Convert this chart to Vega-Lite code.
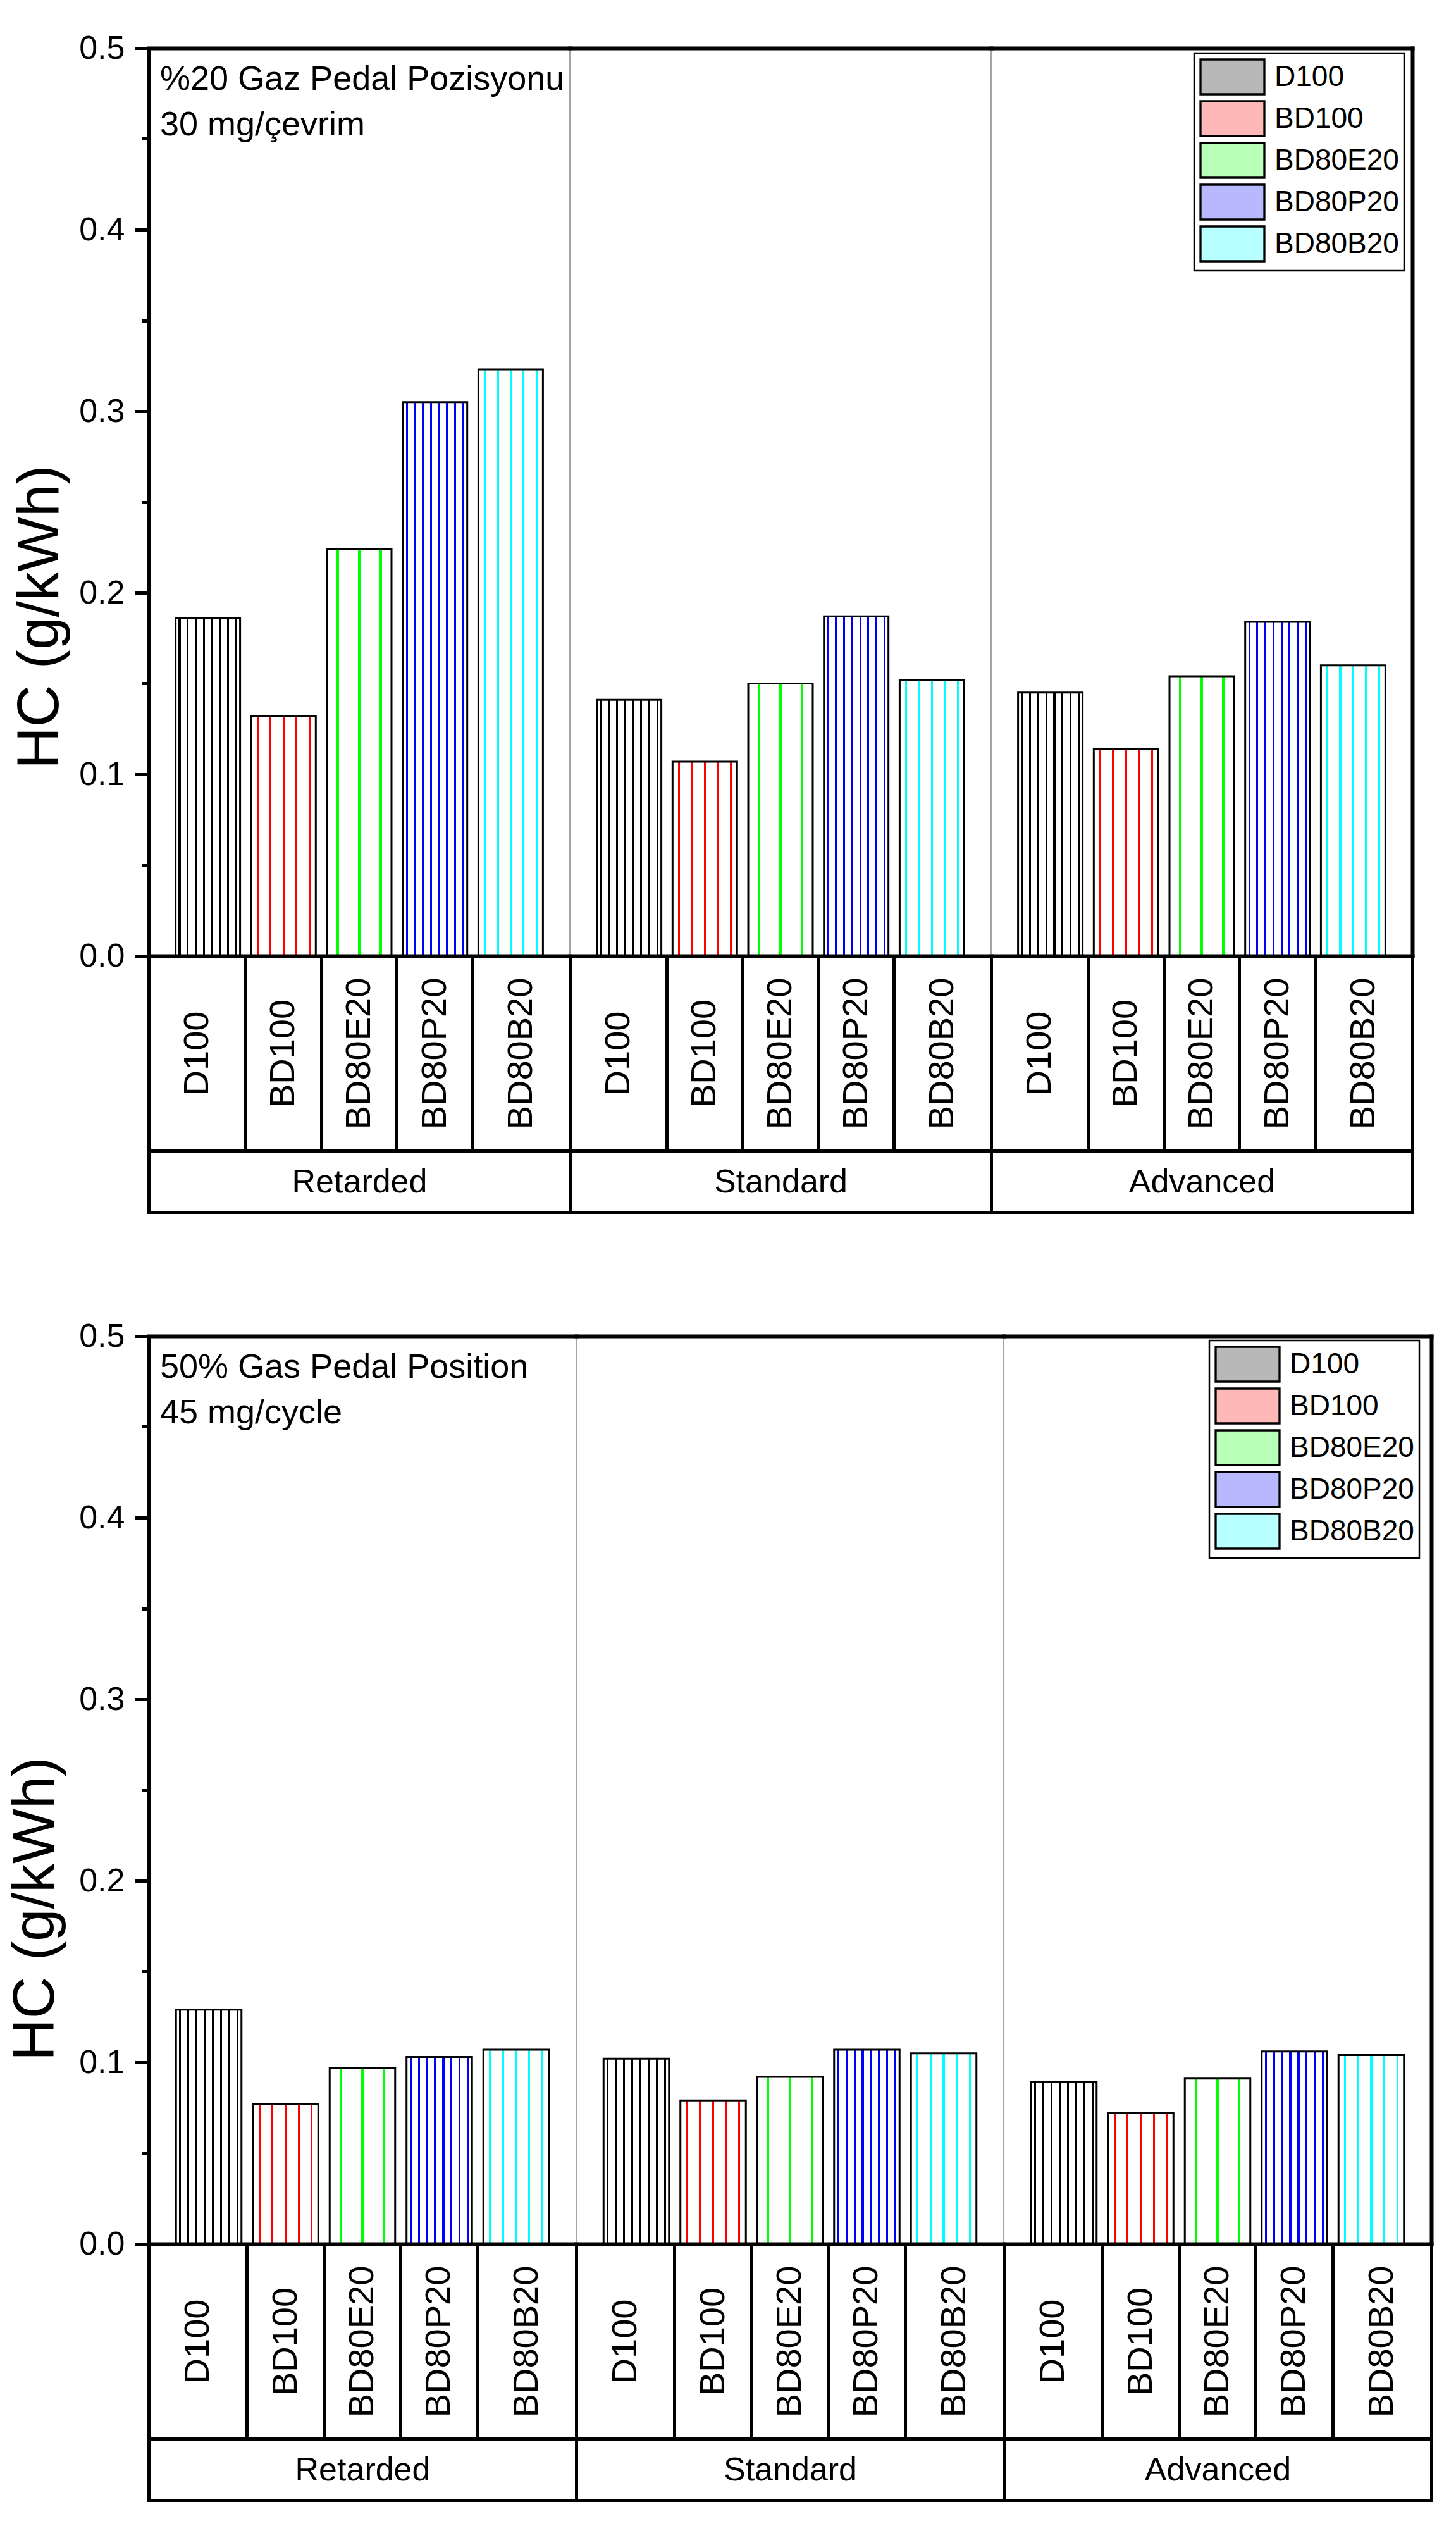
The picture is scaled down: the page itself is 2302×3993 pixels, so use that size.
{
  "$schema": "https://vega.github.io/schema/vega-lite/v6.json",
  "background": "white",
  "padding": {"left": 9, "top": 49, "right": 10, "bottom": 10},
  "data": {"values": [
    {"panel": "a", "timing": "Retarded", "fuel": "D100", "hc": 0.186},
    {"panel": "a", "timing": "Retarded", "fuel": "BD100", "hc": 0.132},
    {"panel": "a", "timing": "Retarded", "fuel": "BD80E20", "hc": 0.224},
    {"panel": "a", "timing": "Retarded", "fuel": "BD80P20", "hc": 0.305},
    {"panel": "a", "timing": "Retarded", "fuel": "BD80B20", "hc": 0.323},
    {"panel": "a", "timing": "Standard", "fuel": "D100", "hc": 0.141},
    {"panel": "a", "timing": "Standard", "fuel": "BD100", "hc": 0.107},
    {"panel": "a", "timing": "Standard", "fuel": "BD80E20", "hc": 0.150},
    {"panel": "a", "timing": "Standard", "fuel": "BD80P20", "hc": 0.187},
    {"panel": "a", "timing": "Standard", "fuel": "BD80B20", "hc": 0.152},
    {"panel": "a", "timing": "Advanced", "fuel": "D100", "hc": 0.145},
    {"panel": "a", "timing": "Advanced", "fuel": "BD100", "hc": 0.114},
    {"panel": "a", "timing": "Advanced", "fuel": "BD80E20", "hc": 0.154},
    {"panel": "a", "timing": "Advanced", "fuel": "BD80P20", "hc": 0.184},
    {"panel": "a", "timing": "Advanced", "fuel": "BD80B20", "hc": 0.160},
    {"panel": "b", "timing": "Retarded", "fuel": "D100", "hc": 0.129},
    {"panel": "b", "timing": "Retarded", "fuel": "BD100", "hc": 0.077},
    {"panel": "b", "timing": "Retarded", "fuel": "BD80E20", "hc": 0.097},
    {"panel": "b", "timing": "Retarded", "fuel": "BD80P20", "hc": 0.103},
    {"panel": "b", "timing": "Retarded", "fuel": "BD80B20", "hc": 0.107},
    {"panel": "b", "timing": "Standard", "fuel": "D100", "hc": 0.102},
    {"panel": "b", "timing": "Standard", "fuel": "BD100", "hc": 0.079},
    {"panel": "b", "timing": "Standard", "fuel": "BD80E20", "hc": 0.092},
    {"panel": "b", "timing": "Standard", "fuel": "BD80P20", "hc": 0.107},
    {"panel": "b", "timing": "Standard", "fuel": "BD80B20", "hc": 0.105},
    {"panel": "b", "timing": "Advanced", "fuel": "D100", "hc": 0.089},
    {"panel": "b", "timing": "Advanced", "fuel": "BD100", "hc": 0.072},
    {"panel": "b", "timing": "Advanced", "fuel": "BD80E20", "hc": 0.091},
    {"panel": "b", "timing": "Advanced", "fuel": "BD80P20", "hc": 0.106},
    {"panel": "b", "timing": "Advanced", "fuel": "BD80B20", "hc": 0.104}
  ]},
  "spacing": 165,
  "resolve": {"scale": {"x": "independent", "y": "independent", "fill": "independent"}, "legend": {"fill": "independent"}},
  "vconcat": [
    {
      "hconcat": [
        {
          "title": {"text": ["%20 Gaz Pedal Pozisyonu", "30 mg/çevrim"], "anchor": "start", "frame": "group", "orient": "top", "baseline": "alphabetic", "offset": -218, "dx": 18, "fontSize": 54, "fontWeight": "normal", "lineHeight": 72, "color": "black", "limit": 2000},
          "width": 666, "height": 1435,
          "transform": [{"filter": "datum.panel == 'a' && datum.timing == 'Retarded'"}],
          "resolve": {"scale": {"x": "independent"}, "axis": {"x": "independent", "y": "independent"}},
          "layer": [
            {"transform": [{"filter": "datum.fuel == 'D100'"}], "mark": {"type": "bar", "stroke": "black", "strokeWidth": 3, "width": {"band": 0.852}, "fill": {"gradient": "linear", "x1": 0, "y1": 0, "x2": 1, "y2": 0, "stops": [{"offset": 0, "color": "#ffffff"}, {"offset": 0.0475, "color": "#ffffff"}, {"offset": 0.0475, "color": "#000000"}, {"offset": 0.0775, "color": "#000000"}, {"offset": 0.0775, "color": "#ffffff"}, {"offset": 0.1725, "color": "#ffffff"}, {"offset": 0.1725, "color": "#000000"}, {"offset": 0.2025, "color": "#000000"}, {"offset": 0.2025, "color": "#ffffff"}, {"offset": 0.2975, "color": "#ffffff"}, {"offset": 0.2975, "color": "#000000"}, {"offset": 0.3275, "color": "#000000"}, {"offset": 0.3275, "color": "#ffffff"}, {"offset": 0.4225, "color": "#ffffff"}, {"offset": 0.4225, "color": "#000000"}, {"offset": 0.4525, "color": "#000000"}, {"offset": 0.4525, "color": "#ffffff"}, {"offset": 0.5475, "color": "#ffffff"}, {"offset": 0.5475, "color": "#000000"}, {"offset": 0.5775, "color": "#000000"}, {"offset": 0.5775, "color": "#ffffff"}, {"offset": 0.6725, "color": "#ffffff"}, {"offset": 0.6725, "color": "#000000"}, {"offset": 0.7025, "color": "#000000"}, {"offset": 0.7025, "color": "#ffffff"}, {"offset": 0.7975, "color": "#ffffff"}, {"offset": 0.7975, "color": "#000000"}, {"offset": 0.8275, "color": "#000000"}, {"offset": 0.8275, "color": "#ffffff"}, {"offset": 0.9225, "color": "#ffffff"}, {"offset": 0.9225, "color": "#000000"}, {"offset": 0.9525, "color": "#000000"}, {"offset": 0.9525, "color": "#ffffff"}, {"offset": 1, "color": "#ffffff"}]}},
              "encoding": {
                "x": {"field": "fuel", "type": "nominal", "scale": {"type": "band", "domain": ["D100", "BD100", "BD80E20", "BD80P20", "BD80B20"], "paddingInner": 0, "paddingOuter": 0.282},
                  "axis": {"orient": "bottom", "domain": false, "ticks": true, "bandPosition": 0, "tickExtra": false, "tickSize": 308, "tickWidth": 5, "tickOpacity": {"condition": {"test": "datum.value === 'D100'", "value": 0}, "value": 1}, "labelAngle": 270, "labelAlign": "center", "labelBaseline": "middle", "labelPadding": -154, "labelFontSize": 56, "labelLimit": 1000, "labelOverlap": false, "labelOffset": {"condition": [{"test": "datum.value === 'D100'", "value": -17}, {"test": "datum.value === 'BD80B20'", "value": 17}], "value": 0}, "title": null, "zindex": 1}},
                "y": {"field": "hc", "type": "quantitative", "scale": {"domain": [0, 0.5], "nice": false},
                  "axis": {"orient": "left", "values": [0, 0.05, 0.1, 0.15, 0.2, 0.25, 0.3, 0.35, 0.4, 0.45, 0.5], "labelExpr": "round(datum.value*100) % 10 == 0 ? format(datum.value, '.1f') : ''", "tickSize": {"condition": {"test": "round(datum.value*100) % 10 != 0", "value": 11}, "value": 22}, "tickWidth": 5, "domainWidth": 5, "labelFontSize": 52, "labelPadding": 16, "title": "HC (g/kWh)", "titleFontSize": 92, "titleFontWeight": "normal", "titlePadding": 14, "titleY": 899, "zindex": 2}}}},
            {"transform": [{"filter": "datum.fuel == 'BD100'"}], "mark": {"type": "bar", "stroke": "black", "strokeWidth": 3, "width": {"band": 0.852}, "fill": {"gradient": "linear", "x1": 0, "y1": 0, "x2": 1, "y2": 0, "stops": [{"offset": 0, "color": "#ffffff"}, {"offset": 0.085, "color": "#ffffff"}, {"offset": 0.085, "color": "#ff0000"}, {"offset": 0.115, "color": "#ff0000"}, {"offset": 0.115, "color": "#ffffff"}, {"offset": 0.285, "color": "#ffffff"}, {"offset": 0.285, "color": "#ff0000"}, {"offset": 0.315, "color": "#ff0000"}, {"offset": 0.315, "color": "#ffffff"}, {"offset": 0.485, "color": "#ffffff"}, {"offset": 0.485, "color": "#ff0000"}, {"offset": 0.515, "color": "#ff0000"}, {"offset": 0.515, "color": "#ffffff"}, {"offset": 0.685, "color": "#ffffff"}, {"offset": 0.685, "color": "#ff0000"}, {"offset": 0.715, "color": "#ff0000"}, {"offset": 0.715, "color": "#ffffff"}, {"offset": 0.885, "color": "#ffffff"}, {"offset": 0.885, "color": "#ff0000"}, {"offset": 0.915, "color": "#ff0000"}, {"offset": 0.915, "color": "#ffffff"}, {"offset": 1, "color": "#ffffff"}]}},
              "encoding": {"x": {"field": "fuel", "type": "nominal", "scale": {"type": "band", "domain": ["D100", "BD100", "BD80E20", "BD80P20", "BD80B20"], "paddingInner": 0, "paddingOuter": 0.282}, "axis": null}, "y": {"field": "hc", "type": "quantitative", "axis": null}}},
            {"transform": [{"filter": "datum.fuel == 'BD80E20'"}], "mark": {"type": "bar", "stroke": "black", "strokeWidth": 3, "width": {"band": 0.852}, "fill": {"gradient": "linear", "x1": 0, "y1": 0, "x2": 1, "y2": 0, "stops": [{"offset": 0, "color": "#ffffff"}, {"offset": 0.1517, "color": "#ffffff"}, {"offset": 0.1517, "color": "#00ff00"}, {"offset": 0.1817, "color": "#00ff00"}, {"offset": 0.1817, "color": "#ffffff"}, {"offset": 0.485, "color": "#ffffff"}, {"offset": 0.485, "color": "#00ff00"}, {"offset": 0.515, "color": "#00ff00"}, {"offset": 0.515, "color": "#ffffff"}, {"offset": 0.8183, "color": "#ffffff"}, {"offset": 0.8183, "color": "#00ff00"}, {"offset": 0.8483, "color": "#00ff00"}, {"offset": 0.8483, "color": "#ffffff"}, {"offset": 1, "color": "#ffffff"}]}},
              "encoding": {"x": {"field": "fuel", "type": "nominal", "scale": {"type": "band", "domain": ["D100", "BD100", "BD80E20", "BD80P20", "BD80B20"], "paddingInner": 0, "paddingOuter": 0.282}, "axis": null}, "y": {"field": "hc", "type": "quantitative", "axis": null}}},
            {"transform": [{"filter": "datum.fuel == 'BD80P20'"}], "mark": {"type": "bar", "stroke": "black", "strokeWidth": 3, "width": {"band": 0.852}, "fill": {"gradient": "linear", "x1": 0, "y1": 0, "x2": 1, "y2": 0, "stops": [{"offset": 0, "color": "#ffffff"}, {"offset": 0.0475, "color": "#ffffff"}, {"offset": 0.0475, "color": "#0000ff"}, {"offset": 0.0775, "color": "#0000ff"}, {"offset": 0.0775, "color": "#ffffff"}, {"offset": 0.1725, "color": "#ffffff"}, {"offset": 0.1725, "color": "#0000ff"}, {"offset": 0.2025, "color": "#0000ff"}, {"offset": 0.2025, "color": "#ffffff"}, {"offset": 0.2975, "color": "#ffffff"}, {"offset": 0.2975, "color": "#0000ff"}, {"offset": 0.3275, "color": "#0000ff"}, {"offset": 0.3275, "color": "#ffffff"}, {"offset": 0.4225, "color": "#ffffff"}, {"offset": 0.4225, "color": "#0000ff"}, {"offset": 0.4525, "color": "#0000ff"}, {"offset": 0.4525, "color": "#ffffff"}, {"offset": 0.5475, "color": "#ffffff"}, {"offset": 0.5475, "color": "#0000ff"}, {"offset": 0.5775, "color": "#0000ff"}, {"offset": 0.5775, "color": "#ffffff"}, {"offset": 0.6725, "color": "#ffffff"}, {"offset": 0.6725, "color": "#0000ff"}, {"offset": 0.7025, "color": "#0000ff"}, {"offset": 0.7025, "color": "#ffffff"}, {"offset": 0.7975, "color": "#ffffff"}, {"offset": 0.7975, "color": "#0000ff"}, {"offset": 0.8275, "color": "#0000ff"}, {"offset": 0.8275, "color": "#ffffff"}, {"offset": 0.9225, "color": "#ffffff"}, {"offset": 0.9225, "color": "#0000ff"}, {"offset": 0.9525, "color": "#0000ff"}, {"offset": 0.9525, "color": "#ffffff"}, {"offset": 1, "color": "#ffffff"}]}},
              "encoding": {"x": {"field": "fuel", "type": "nominal", "scale": {"type": "band", "domain": ["D100", "BD100", "BD80E20", "BD80P20", "BD80B20"], "paddingInner": 0, "paddingOuter": 0.282}, "axis": null}, "y": {"field": "hc", "type": "quantitative", "axis": null}}},
            {"transform": [{"filter": "datum.fuel == 'BD80B20'"}], "mark": {"type": "bar", "stroke": "black", "strokeWidth": 3, "width": {"band": 0.852}, "fill": {"gradient": "linear", "x1": 0, "y1": 0, "x2": 1, "y2": 0, "stops": [{"offset": 0, "color": "#ffffff"}, {"offset": 0.085, "color": "#ffffff"}, {"offset": 0.085, "color": "#00ffff"}, {"offset": 0.115, "color": "#00ffff"}, {"offset": 0.115, "color": "#ffffff"}, {"offset": 0.285, "color": "#ffffff"}, {"offset": 0.285, "color": "#00ffff"}, {"offset": 0.315, "color": "#00ffff"}, {"offset": 0.315, "color": "#ffffff"}, {"offset": 0.485, "color": "#ffffff"}, {"offset": 0.485, "color": "#00ffff"}, {"offset": 0.515, "color": "#00ffff"}, {"offset": 0.515, "color": "#ffffff"}, {"offset": 0.685, "color": "#ffffff"}, {"offset": 0.685, "color": "#00ffff"}, {"offset": 0.715, "color": "#00ffff"}, {"offset": 0.715, "color": "#ffffff"}, {"offset": 0.885, "color": "#ffffff"}, {"offset": 0.885, "color": "#00ffff"}, {"offset": 0.915, "color": "#00ffff"}, {"offset": 0.915, "color": "#ffffff"}, {"offset": 1, "color": "#ffffff"}]}},
              "encoding": {"x": {"field": "fuel", "type": "nominal", "scale": {"type": "band", "domain": ["D100", "BD100", "BD80E20", "BD80P20", "BD80B20"], "paddingInner": 0, "paddingOuter": 0.282}, "axis": null}, "y": {"field": "hc", "type": "quantitative", "axis": null}}},
            {"mark": {"type": "point", "opacity": 0}, "encoding": {"y": {"field": "hc", "type": "quantitative", "axis": null}, "x": {"field": "timing", "type": "nominal", "scale": {"type": "band", "paddingInner": 0, "paddingOuter": 0}, "axis": {"orient": "bottom", "domain": true, "domainWidth": 6, "domainCap": "square", "ticks": true, "tickBand": "extent", "tickSize": 405, "tickWidth": 5, "labelAngle": 0, "labelAlign": "center", "labelBaseline": "middle", "labelPadding": -48, "labelFontSize": 52, "labelLimit": 1000, "title": null, "zindex": 2}}}},
            {"mark": {"type": "point", "opacity": 0}, "encoding": {"y": {"field": "hc", "type": "quantitative", "axis": null}, "x": {"field": "timing", "type": "nominal", "scale": {"type": "band", "paddingInner": 0, "paddingOuter": 0}, "axis": {"orient": "bottom", "offset": 308, "domainWidth": 5, "domainCap": "square", "ticks": false, "labels": false, "title": null, "zindex": 2}}}},
            {"mark": {"type": "point", "opacity": 0}, "encoding": {"y": {"field": "hc", "type": "quantitative", "axis": null}, "x": {"field": "timing", "type": "nominal", "scale": {"type": "band", "paddingInner": 0, "paddingOuter": 0}, "axis": {"orient": "bottom", "offset": 405, "domainWidth": 5, "domainCap": "square", "ticks": false, "labels": false, "title": null, "zindex": 2}}}},
            {"mark": {"type": "point", "opacity": 0}, "encoding": {"y": {"field": "hc", "type": "quantitative", "axis": null}, "x": {"field": "timing", "type": "nominal", "scale": {"type": "band", "paddingInner": 0, "paddingOuter": 0}, "axis": {"orient": "top", "domainWidth": 6, "domainCap": "square", "ticks": false, "labels": false, "title": null, "zindex": 2}}}}
          ]
        },
        {
          "width": 666, "height": 1435,
          "transform": [{"filter": "datum.panel == 'a' && datum.timing == 'Standard'"}],
          "resolve": {"scale": {"x": "independent"}, "axis": {"x": "independent", "y": "independent"}},
          "layer": [
            {"transform": [{"filter": "datum.fuel == 'D100'"}], "mark": {"type": "bar", "stroke": "black", "strokeWidth": 3, "width": {"band": 0.852}, "fill": {"gradient": "linear", "x1": 0, "y1": 0, "x2": 1, "y2": 0, "stops": [{"offset": 0, "color": "#ffffff"}, {"offset": 0.0475, "color": "#ffffff"}, {"offset": 0.0475, "color": "#000000"}, {"offset": 0.0775, "color": "#000000"}, {"offset": 0.0775, "color": "#ffffff"}, {"offset": 0.1725, "color": "#ffffff"}, {"offset": 0.1725, "color": "#000000"}, {"offset": 0.2025, "color": "#000000"}, {"offset": 0.2025, "color": "#ffffff"}, {"offset": 0.2975, "color": "#ffffff"}, {"offset": 0.2975, "color": "#000000"}, {"offset": 0.3275, "color": "#000000"}, {"offset": 0.3275, "color": "#ffffff"}, {"offset": 0.4225, "color": "#ffffff"}, {"offset": 0.4225, "color": "#000000"}, {"offset": 0.4525, "color": "#000000"}, {"offset": 0.4525, "color": "#ffffff"}, {"offset": 0.5475, "color": "#ffffff"}, {"offset": 0.5475, "color": "#000000"}, {"offset": 0.5775, "color": "#000000"}, {"offset": 0.5775, "color": "#ffffff"}, {"offset": 0.6725, "color": "#ffffff"}, {"offset": 0.6725, "color": "#000000"}, {"offset": 0.7025, "color": "#000000"}, {"offset": 0.7025, "color": "#ffffff"}, {"offset": 0.7975, "color": "#ffffff"}, {"offset": 0.7975, "color": "#000000"}, {"offset": 0.8275, "color": "#000000"}, {"offset": 0.8275, "color": "#ffffff"}, {"offset": 0.9225, "color": "#ffffff"}, {"offset": 0.9225, "color": "#000000"}, {"offset": 0.9525, "color": "#000000"}, {"offset": 0.9525, "color": "#ffffff"}, {"offset": 1, "color": "#ffffff"}]}},
              "encoding": {
                "x": {"field": "fuel", "type": "nominal", "scale": {"type": "band", "domain": ["D100", "BD100", "BD80E20", "BD80P20", "BD80B20"], "paddingInner": 0, "paddingOuter": 0.282},
                  "axis": {"orient": "bottom", "domain": false, "ticks": true, "bandPosition": 0, "tickExtra": false, "tickSize": 308, "tickWidth": 5, "tickOpacity": {"condition": {"test": "datum.value === 'D100'", "value": 0}, "value": 1}, "labelAngle": 270, "labelAlign": "center", "labelBaseline": "middle", "labelPadding": -154, "labelFontSize": 56, "labelLimit": 1000, "labelOverlap": false, "labelOffset": {"condition": [{"test": "datum.value === 'D100'", "value": -17}, {"test": "datum.value === 'BD80B20'", "value": 17}], "value": 0}, "title": null, "zindex": 1}},
                "y": {"field": "hc", "type": "quantitative", "scale": {"domain": [0, 0.5], "nice": false}, "axis": null}}},
            {"transform": [{"filter": "datum.fuel == 'BD100'"}], "mark": {"type": "bar", "stroke": "black", "strokeWidth": 3, "width": {"band": 0.852}, "fill": {"gradient": "linear", "x1": 0, "y1": 0, "x2": 1, "y2": 0, "stops": [{"offset": 0, "color": "#ffffff"}, {"offset": 0.085, "color": "#ffffff"}, {"offset": 0.085, "color": "#ff0000"}, {"offset": 0.115, "color": "#ff0000"}, {"offset": 0.115, "color": "#ffffff"}, {"offset": 0.285, "color": "#ffffff"}, {"offset": 0.285, "color": "#ff0000"}, {"offset": 0.315, "color": "#ff0000"}, {"offset": 0.315, "color": "#ffffff"}, {"offset": 0.485, "color": "#ffffff"}, {"offset": 0.485, "color": "#ff0000"}, {"offset": 0.515, "color": "#ff0000"}, {"offset": 0.515, "color": "#ffffff"}, {"offset": 0.685, "color": "#ffffff"}, {"offset": 0.685, "color": "#ff0000"}, {"offset": 0.715, "color": "#ff0000"}, {"offset": 0.715, "color": "#ffffff"}, {"offset": 0.885, "color": "#ffffff"}, {"offset": 0.885, "color": "#ff0000"}, {"offset": 0.915, "color": "#ff0000"}, {"offset": 0.915, "color": "#ffffff"}, {"offset": 1, "color": "#ffffff"}]}},
              "encoding": {"x": {"field": "fuel", "type": "nominal", "scale": {"type": "band", "domain": ["D100", "BD100", "BD80E20", "BD80P20", "BD80B20"], "paddingInner": 0, "paddingOuter": 0.282}, "axis": null}, "y": {"field": "hc", "type": "quantitative", "axis": null}}},
            {"transform": [{"filter": "datum.fuel == 'BD80E20'"}], "mark": {"type": "bar", "stroke": "black", "strokeWidth": 3, "width": {"band": 0.852}, "fill": {"gradient": "linear", "x1": 0, "y1": 0, "x2": 1, "y2": 0, "stops": [{"offset": 0, "color": "#ffffff"}, {"offset": 0.1517, "color": "#ffffff"}, {"offset": 0.1517, "color": "#00ff00"}, {"offset": 0.1817, "color": "#00ff00"}, {"offset": 0.1817, "color": "#ffffff"}, {"offset": 0.485, "color": "#ffffff"}, {"offset": 0.485, "color": "#00ff00"}, {"offset": 0.515, "color": "#00ff00"}, {"offset": 0.515, "color": "#ffffff"}, {"offset": 0.8183, "color": "#ffffff"}, {"offset": 0.8183, "color": "#00ff00"}, {"offset": 0.8483, "color": "#00ff00"}, {"offset": 0.8483, "color": "#ffffff"}, {"offset": 1, "color": "#ffffff"}]}},
              "encoding": {"x": {"field": "fuel", "type": "nominal", "scale": {"type": "band", "domain": ["D100", "BD100", "BD80E20", "BD80P20", "BD80B20"], "paddingInner": 0, "paddingOuter": 0.282}, "axis": null}, "y": {"field": "hc", "type": "quantitative", "axis": null}}},
            {"transform": [{"filter": "datum.fuel == 'BD80P20'"}], "mark": {"type": "bar", "stroke": "black", "strokeWidth": 3, "width": {"band": 0.852}, "fill": {"gradient": "linear", "x1": 0, "y1": 0, "x2": 1, "y2": 0, "stops": [{"offset": 0, "color": "#ffffff"}, {"offset": 0.0475, "color": "#ffffff"}, {"offset": 0.0475, "color": "#0000ff"}, {"offset": 0.0775, "color": "#0000ff"}, {"offset": 0.0775, "color": "#ffffff"}, {"offset": 0.1725, "color": "#ffffff"}, {"offset": 0.1725, "color": "#0000ff"}, {"offset": 0.2025, "color": "#0000ff"}, {"offset": 0.2025, "color": "#ffffff"}, {"offset": 0.2975, "color": "#ffffff"}, {"offset": 0.2975, "color": "#0000ff"}, {"offset": 0.3275, "color": "#0000ff"}, {"offset": 0.3275, "color": "#ffffff"}, {"offset": 0.4225, "color": "#ffffff"}, {"offset": 0.4225, "color": "#0000ff"}, {"offset": 0.4525, "color": "#0000ff"}, {"offset": 0.4525, "color": "#ffffff"}, {"offset": 0.5475, "color": "#ffffff"}, {"offset": 0.5475, "color": "#0000ff"}, {"offset": 0.5775, "color": "#0000ff"}, {"offset": 0.5775, "color": "#ffffff"}, {"offset": 0.6725, "color": "#ffffff"}, {"offset": 0.6725, "color": "#0000ff"}, {"offset": 0.7025, "color": "#0000ff"}, {"offset": 0.7025, "color": "#ffffff"}, {"offset": 0.7975, "color": "#ffffff"}, {"offset": 0.7975, "color": "#0000ff"}, {"offset": 0.8275, "color": "#0000ff"}, {"offset": 0.8275, "color": "#ffffff"}, {"offset": 0.9225, "color": "#ffffff"}, {"offset": 0.9225, "color": "#0000ff"}, {"offset": 0.9525, "color": "#0000ff"}, {"offset": 0.9525, "color": "#ffffff"}, {"offset": 1, "color": "#ffffff"}]}},
              "encoding": {"x": {"field": "fuel", "type": "nominal", "scale": {"type": "band", "domain": ["D100", "BD100", "BD80E20", "BD80P20", "BD80B20"], "paddingInner": 0, "paddingOuter": 0.282}, "axis": null}, "y": {"field": "hc", "type": "quantitative", "axis": null}}},
            {"transform": [{"filter": "datum.fuel == 'BD80B20'"}], "mark": {"type": "bar", "stroke": "black", "strokeWidth": 3, "width": {"band": 0.852}, "fill": {"gradient": "linear", "x1": 0, "y1": 0, "x2": 1, "y2": 0, "stops": [{"offset": 0, "color": "#ffffff"}, {"offset": 0.085, "color": "#ffffff"}, {"offset": 0.085, "color": "#00ffff"}, {"offset": 0.115, "color": "#00ffff"}, {"offset": 0.115, "color": "#ffffff"}, {"offset": 0.285, "color": "#ffffff"}, {"offset": 0.285, "color": "#00ffff"}, {"offset": 0.315, "color": "#00ffff"}, {"offset": 0.315, "color": "#ffffff"}, {"offset": 0.485, "color": "#ffffff"}, {"offset": 0.485, "color": "#00ffff"}, {"offset": 0.515, "color": "#00ffff"}, {"offset": 0.515, "color": "#ffffff"}, {"offset": 0.685, "color": "#ffffff"}, {"offset": 0.685, "color": "#00ffff"}, {"offset": 0.715, "color": "#00ffff"}, {"offset": 0.715, "color": "#ffffff"}, {"offset": 0.885, "color": "#ffffff"}, {"offset": 0.885, "color": "#00ffff"}, {"offset": 0.915, "color": "#00ffff"}, {"offset": 0.915, "color": "#ffffff"}, {"offset": 1, "color": "#ffffff"}]}},
              "encoding": {"x": {"field": "fuel", "type": "nominal", "scale": {"type": "band", "domain": ["D100", "BD100", "BD80E20", "BD80P20", "BD80B20"], "paddingInner": 0, "paddingOuter": 0.282}, "axis": null}, "y": {"field": "hc", "type": "quantitative", "axis": null}}},
            {"mark": {"type": "point", "opacity": 0}, "encoding": {"y": {"field": "hc", "type": "quantitative", "axis": null}, "x": {"field": "timing", "type": "nominal", "scale": {"type": "band", "paddingInner": 0, "paddingOuter": 0}, "axis": {"orient": "bottom", "domain": true, "domainWidth": 6, "domainCap": "square", "ticks": true, "tickBand": "extent", "tickSize": 405, "tickWidth": 5, "labelAngle": 0, "labelAlign": "center", "labelBaseline": "middle", "labelPadding": -48, "labelFontSize": 52, "labelLimit": 1000, "title": null, "zindex": 2}}}},
            {"mark": {"type": "point", "opacity": 0}, "encoding": {"y": {"field": "hc", "type": "quantitative", "axis": null}, "x": {"field": "timing", "type": "nominal", "scale": {"type": "band", "paddingInner": 0, "paddingOuter": 0}, "axis": {"orient": "bottom", "offset": 308, "domainWidth": 5, "domainCap": "square", "ticks": false, "labels": false, "title": null, "zindex": 2}}}},
            {"mark": {"type": "point", "opacity": 0}, "encoding": {"y": {"field": "hc", "type": "quantitative", "axis": null}, "x": {"field": "timing", "type": "nominal", "scale": {"type": "band", "paddingInner": 0, "paddingOuter": 0}, "axis": {"orient": "bottom", "offset": 405, "domainWidth": 5, "domainCap": "square", "ticks": false, "labels": false, "title": null, "zindex": 2}}}},
            {"mark": {"type": "point", "opacity": 0}, "encoding": {"y": {"field": "hc", "type": "quantitative", "axis": null}, "x": {"field": "timing", "type": "nominal", "scale": {"type": "band", "paddingInner": 0, "paddingOuter": 0}, "axis": {"orient": "top", "domainWidth": 6, "domainCap": "square", "ticks": false, "labels": false, "title": null, "zindex": 2}}}}
          ]
        },
        {
          "width": 666, "height": 1435,
          "transform": [{"filter": "datum.panel == 'a' && datum.timing == 'Advanced'"}],
          "resolve": {"scale": {"x": "independent"}, "axis": {"x": "independent", "y": "independent"}},
          "layer": [
            {"transform": [{"filter": "datum.fuel == 'D100'"}], "mark": {"type": "bar", "stroke": "black", "strokeWidth": 3, "width": {"band": 0.852}, "fill": {"gradient": "linear", "x1": 0, "y1": 0, "x2": 1, "y2": 0, "stops": [{"offset": 0, "color": "#ffffff"}, {"offset": 0.0475, "color": "#ffffff"}, {"offset": 0.0475, "color": "#000000"}, {"offset": 0.0775, "color": "#000000"}, {"offset": 0.0775, "color": "#ffffff"}, {"offset": 0.1725, "color": "#ffffff"}, {"offset": 0.1725, "color": "#000000"}, {"offset": 0.2025, "color": "#000000"}, {"offset": 0.2025, "color": "#ffffff"}, {"offset": 0.2975, "color": "#ffffff"}, {"offset": 0.2975, "color": "#000000"}, {"offset": 0.3275, "color": "#000000"}, {"offset": 0.3275, "color": "#ffffff"}, {"offset": 0.4225, "color": "#ffffff"}, {"offset": 0.4225, "color": "#000000"}, {"offset": 0.4525, "color": "#000000"}, {"offset": 0.4525, "color": "#ffffff"}, {"offset": 0.5475, "color": "#ffffff"}, {"offset": 0.5475, "color": "#000000"}, {"offset": 0.5775, "color": "#000000"}, {"offset": 0.5775, "color": "#ffffff"}, {"offset": 0.6725, "color": "#ffffff"}, {"offset": 0.6725, "color": "#000000"}, {"offset": 0.7025, "color": "#000000"}, {"offset": 0.7025, "color": "#ffffff"}, {"offset": 0.7975, "color": "#ffffff"}, {"offset": 0.7975, "color": "#000000"}, {"offset": 0.8275, "color": "#000000"}, {"offset": 0.8275, "color": "#ffffff"}, {"offset": 0.9225, "color": "#ffffff"}, {"offset": 0.9225, "color": "#000000"}, {"offset": 0.9525, "color": "#000000"}, {"offset": 0.9525, "color": "#ffffff"}, {"offset": 1, "color": "#ffffff"}]}},
              "encoding": {
                "x": {"field": "fuel", "type": "nominal", "scale": {"type": "band", "domain": ["D100", "BD100", "BD80E20", "BD80P20", "BD80B20"], "paddingInner": 0, "paddingOuter": 0.282},
                  "axis": {"orient": "bottom", "domain": false, "ticks": true, "bandPosition": 0, "tickExtra": false, "tickSize": 308, "tickWidth": 5, "tickOpacity": {"condition": {"test": "datum.value === 'D100'", "value": 0}, "value": 1}, "labelAngle": 270, "labelAlign": "center", "labelBaseline": "middle", "labelPadding": -154, "labelFontSize": 56, "labelLimit": 1000, "labelOverlap": false, "labelOffset": {"condition": [{"test": "datum.value === 'D100'", "value": -17}, {"test": "datum.value === 'BD80B20'", "value": 17}], "value": 0}, "title": null, "zindex": 1}},
                "y": {"field": "hc", "type": "quantitative", "scale": {"domain": [0, 0.5], "nice": false}, "axis": null}}},
            {"transform": [{"filter": "datum.fuel == 'BD100'"}], "mark": {"type": "bar", "stroke": "black", "strokeWidth": 3, "width": {"band": 0.852}, "fill": {"gradient": "linear", "x1": 0, "y1": 0, "x2": 1, "y2": 0, "stops": [{"offset": 0, "color": "#ffffff"}, {"offset": 0.085, "color": "#ffffff"}, {"offset": 0.085, "color": "#ff0000"}, {"offset": 0.115, "color": "#ff0000"}, {"offset": 0.115, "color": "#ffffff"}, {"offset": 0.285, "color": "#ffffff"}, {"offset": 0.285, "color": "#ff0000"}, {"offset": 0.315, "color": "#ff0000"}, {"offset": 0.315, "color": "#ffffff"}, {"offset": 0.485, "color": "#ffffff"}, {"offset": 0.485, "color": "#ff0000"}, {"offset": 0.515, "color": "#ff0000"}, {"offset": 0.515, "color": "#ffffff"}, {"offset": 0.685, "color": "#ffffff"}, {"offset": 0.685, "color": "#ff0000"}, {"offset": 0.715, "color": "#ff0000"}, {"offset": 0.715, "color": "#ffffff"}, {"offset": 0.885, "color": "#ffffff"}, {"offset": 0.885, "color": "#ff0000"}, {"offset": 0.915, "color": "#ff0000"}, {"offset": 0.915, "color": "#ffffff"}, {"offset": 1, "color": "#ffffff"}]}},
              "encoding": {"x": {"field": "fuel", "type": "nominal", "scale": {"type": "band", "domain": ["D100", "BD100", "BD80E20", "BD80P20", "BD80B20"], "paddingInner": 0, "paddingOuter": 0.282}, "axis": null}, "y": {"field": "hc", "type": "quantitative", "axis": null}}},
            {"transform": [{"filter": "datum.fuel == 'BD80E20'"}], "mark": {"type": "bar", "stroke": "black", "strokeWidth": 3, "width": {"band": 0.852}, "fill": {"gradient": "linear", "x1": 0, "y1": 0, "x2": 1, "y2": 0, "stops": [{"offset": 0, "color": "#ffffff"}, {"offset": 0.1517, "color": "#ffffff"}, {"offset": 0.1517, "color": "#00ff00"}, {"offset": 0.1817, "color": "#00ff00"}, {"offset": 0.1817, "color": "#ffffff"}, {"offset": 0.485, "color": "#ffffff"}, {"offset": 0.485, "color": "#00ff00"}, {"offset": 0.515, "color": "#00ff00"}, {"offset": 0.515, "color": "#ffffff"}, {"offset": 0.8183, "color": "#ffffff"}, {"offset": 0.8183, "color": "#00ff00"}, {"offset": 0.8483, "color": "#00ff00"}, {"offset": 0.8483, "color": "#ffffff"}, {"offset": 1, "color": "#ffffff"}]}},
              "encoding": {"x": {"field": "fuel", "type": "nominal", "scale": {"type": "band", "domain": ["D100", "BD100", "BD80E20", "BD80P20", "BD80B20"], "paddingInner": 0, "paddingOuter": 0.282}, "axis": null}, "y": {"field": "hc", "type": "quantitative", "axis": null}}},
            {"transform": [{"filter": "datum.fuel == 'BD80P20'"}], "mark": {"type": "bar", "stroke": "black", "strokeWidth": 3, "width": {"band": 0.852}, "fill": {"gradient": "linear", "x1": 0, "y1": 0, "x2": 1, "y2": 0, "stops": [{"offset": 0, "color": "#ffffff"}, {"offset": 0.0475, "color": "#ffffff"}, {"offset": 0.0475, "color": "#0000ff"}, {"offset": 0.0775, "color": "#0000ff"}, {"offset": 0.0775, "color": "#ffffff"}, {"offset": 0.1725, "color": "#ffffff"}, {"offset": 0.1725, "color": "#0000ff"}, {"offset": 0.2025, "color": "#0000ff"}, {"offset": 0.2025, "color": "#ffffff"}, {"offset": 0.2975, "color": "#ffffff"}, {"offset": 0.2975, "color": "#0000ff"}, {"offset": 0.3275, "color": "#0000ff"}, {"offset": 0.3275, "color": "#ffffff"}, {"offset": 0.4225, "color": "#ffffff"}, {"offset": 0.4225, "color": "#0000ff"}, {"offset": 0.4525, "color": "#0000ff"}, {"offset": 0.4525, "color": "#ffffff"}, {"offset": 0.5475, "color": "#ffffff"}, {"offset": 0.5475, "color": "#0000ff"}, {"offset": 0.5775, "color": "#0000ff"}, {"offset": 0.5775, "color": "#ffffff"}, {"offset": 0.6725, "color": "#ffffff"}, {"offset": 0.6725, "color": "#0000ff"}, {"offset": 0.7025, "color": "#0000ff"}, {"offset": 0.7025, "color": "#ffffff"}, {"offset": 0.7975, "color": "#ffffff"}, {"offset": 0.7975, "color": "#0000ff"}, {"offset": 0.8275, "color": "#0000ff"}, {"offset": 0.8275, "color": "#ffffff"}, {"offset": 0.9225, "color": "#ffffff"}, {"offset": 0.9225, "color": "#0000ff"}, {"offset": 0.9525, "color": "#0000ff"}, {"offset": 0.9525, "color": "#ffffff"}, {"offset": 1, "color": "#ffffff"}]}},
              "encoding": {"x": {"field": "fuel", "type": "nominal", "scale": {"type": "band", "domain": ["D100", "BD100", "BD80E20", "BD80P20", "BD80B20"], "paddingInner": 0, "paddingOuter": 0.282}, "axis": null}, "y": {"field": "hc", "type": "quantitative", "axis": null}}},
            {"transform": [{"filter": "datum.fuel == 'BD80B20'"}], "mark": {"type": "bar", "stroke": "black", "strokeWidth": 3, "width": {"band": 0.852}, "fill": {"gradient": "linear", "x1": 0, "y1": 0, "x2": 1, "y2": 0, "stops": [{"offset": 0, "color": "#ffffff"}, {"offset": 0.085, "color": "#ffffff"}, {"offset": 0.085, "color": "#00ffff"}, {"offset": 0.115, "color": "#00ffff"}, {"offset": 0.115, "color": "#ffffff"}, {"offset": 0.285, "color": "#ffffff"}, {"offset": 0.285, "color": "#00ffff"}, {"offset": 0.315, "color": "#00ffff"}, {"offset": 0.315, "color": "#ffffff"}, {"offset": 0.485, "color": "#ffffff"}, {"offset": 0.485, "color": "#00ffff"}, {"offset": 0.515, "color": "#00ffff"}, {"offset": 0.515, "color": "#ffffff"}, {"offset": 0.685, "color": "#ffffff"}, {"offset": 0.685, "color": "#00ffff"}, {"offset": 0.715, "color": "#00ffff"}, {"offset": 0.715, "color": "#ffffff"}, {"offset": 0.885, "color": "#ffffff"}, {"offset": 0.885, "color": "#00ffff"}, {"offset": 0.915, "color": "#00ffff"}, {"offset": 0.915, "color": "#ffffff"}, {"offset": 1, "color": "#ffffff"}]}},
              "encoding": {"x": {"field": "fuel", "type": "nominal", "scale": {"type": "band", "domain": ["D100", "BD100", "BD80E20", "BD80P20", "BD80B20"], "paddingInner": 0, "paddingOuter": 0.282}, "axis": null}, "y": {"field": "hc", "type": "quantitative", "axis": null}}},
            {"mark": {"type": "point", "opacity": 0}, "encoding": {"y": {"field": "hc", "type": "quantitative", "axis": null}, "x": {"field": "timing", "type": "nominal", "scale": {"type": "band", "paddingInner": 0, "paddingOuter": 0}, "axis": {"orient": "bottom", "domain": true, "domainWidth": 6, "domainCap": "square", "ticks": true, "tickBand": "extent", "tickSize": 405, "tickWidth": 5, "labelAngle": 0, "labelAlign": "center", "labelBaseline": "middle", "labelPadding": -48, "labelFontSize": 52, "labelLimit": 1000, "title": null, "zindex": 2}}}},
            {"mark": {"type": "point", "opacity": 0}, "encoding": {"y": {"field": "hc", "type": "quantitative", "axis": null}, "x": {"field": "timing", "type": "nominal", "scale": {"type": "band", "paddingInner": 0, "paddingOuter": 0}, "axis": {"orient": "bottom", "offset": 308, "domainWidth": 5, "domainCap": "square", "ticks": false, "labels": false, "title": null, "zindex": 2}}}},
            {"mark": {"type": "point", "opacity": 0}, "encoding": {"y": {"field": "hc", "type": "quantitative", "axis": null}, "x": {"field": "timing", "type": "nominal", "scale": {"type": "band", "paddingInner": 0, "paddingOuter": 0}, "axis": {"orient": "bottom", "offset": 405, "domainWidth": 5, "domainCap": "square", "ticks": false, "labels": false, "title": null, "zindex": 2}}}},
            {"mark": {"type": "point", "opacity": 0}, "encoding": {"y": {"field": "hc", "type": "quantitative", "axis": null}, "x": {"field": "timing", "type": "nominal", "scale": {"type": "band", "paddingInner": 0, "paddingOuter": 0}, "axis": {"orient": "top", "domainWidth": 6, "domainCap": "square", "ticks": false, "labels": false, "title": null, "zindex": 2}}}},
            {"mark": {"type": "point", "opacity": 0}, "encoding": {"x": {"field": "timing", "type": "nominal", "scale": {"type": "band", "paddingInner": 0, "paddingOuter": 0}, "axis": null}, "y": {"field": "hc", "type": "quantitative", "axis": {"orient": "right", "domainWidth": 6, "domainCap": "square", "ticks": false, "labels": false, "title": null, "zindex": 2}}}},
            {"mark": {"type": "point", "opacity": 0},
              "encoding": {"fill": {"field": "fuel", "type": "nominal",
                "scale": {"domain": ["D100", "BD100", "BD80E20", "BD80P20", "BD80B20"], "range": ["#b8b8b8", "#ffb8b8", "#b8ffb8", "#b8b8ff", "#b8ffff"]},
                "legend": {"orient": "none", "legendX": 321, "legendY": 8, "title": null, "symbolType": "M-1.836,-1H1.836V1H-1.836Z", "symbolSize": 3025, "symbolStrokeColor": "black", "symbolStrokeWidth": 3.3, "symbolOpacity": 1, "symbolOffset": 23, "labelOffset": 37, "labelFontSize": 46, "labelColor": "black", "labelLimit": 500, "rowPadding": -3, "padding": 8, "strokeColor": "black", "fillColor": "white", "zindex": 3}}}}
          ]
        }
      ],
      "spacing": 0,
      "bounds": "flush",
      "resolve": {"scale": {"x": "independent", "y": "independent", "fill": "independent"}, "legend": {"fill": "independent"}}
    },
    {
      "hconcat": [
        {
          "title": {"text": ["50% Gas Pedal Position", "45 mg/cycle"], "anchor": "start", "frame": "group", "orient": "top", "baseline": "alphabetic", "offset": -218, "dx": 18, "fontSize": 54, "fontWeight": "normal", "lineHeight": 72, "color": "black", "limit": 2000},
          "width": 676, "height": 1435,
          "transform": [{"filter": "datum.panel == 'b' && datum.timing == 'Retarded'"}],
          "resolve": {"scale": {"x": "independent"}, "axis": {"x": "independent", "y": "independent"}},
          "layer": [
            {"transform": [{"filter": "datum.fuel == 'D100'"}], "mark": {"type": "bar", "stroke": "black", "strokeWidth": 3, "width": {"band": 0.852}, "fill": {"gradient": "linear", "x1": 0, "y1": 0, "x2": 1, "y2": 0, "stops": [{"offset": 0, "color": "#ffffff"}, {"offset": 0.0475, "color": "#ffffff"}, {"offset": 0.0475, "color": "#000000"}, {"offset": 0.0775, "color": "#000000"}, {"offset": 0.0775, "color": "#ffffff"}, {"offset": 0.1725, "color": "#ffffff"}, {"offset": 0.1725, "color": "#000000"}, {"offset": 0.2025, "color": "#000000"}, {"offset": 0.2025, "color": "#ffffff"}, {"offset": 0.2975, "color": "#ffffff"}, {"offset": 0.2975, "color": "#000000"}, {"offset": 0.3275, "color": "#000000"}, {"offset": 0.3275, "color": "#ffffff"}, {"offset": 0.4225, "color": "#ffffff"}, {"offset": 0.4225, "color": "#000000"}, {"offset": 0.4525, "color": "#000000"}, {"offset": 0.4525, "color": "#ffffff"}, {"offset": 0.5475, "color": "#ffffff"}, {"offset": 0.5475, "color": "#000000"}, {"offset": 0.5775, "color": "#000000"}, {"offset": 0.5775, "color": "#ffffff"}, {"offset": 0.6725, "color": "#ffffff"}, {"offset": 0.6725, "color": "#000000"}, {"offset": 0.7025, "color": "#000000"}, {"offset": 0.7025, "color": "#ffffff"}, {"offset": 0.7975, "color": "#ffffff"}, {"offset": 0.7975, "color": "#000000"}, {"offset": 0.8275, "color": "#000000"}, {"offset": 0.8275, "color": "#ffffff"}, {"offset": 0.9225, "color": "#ffffff"}, {"offset": 0.9225, "color": "#000000"}, {"offset": 0.9525, "color": "#000000"}, {"offset": 0.9525, "color": "#ffffff"}, {"offset": 1, "color": "#ffffff"}]}},
              "encoding": {
                "x": {"field": "fuel", "type": "nominal", "scale": {"type": "band", "domain": ["D100", "BD100", "BD80E20", "BD80P20", "BD80B20"], "paddingInner": 0, "paddingOuter": 0.282},
                  "axis": {"orient": "bottom", "domain": false, "ticks": true, "bandPosition": 0, "tickExtra": false, "tickSize": 308, "tickWidth": 5, "tickOpacity": {"condition": {"test": "datum.value === 'D100'", "value": 0}, "value": 1}, "labelAngle": 270, "labelAlign": "center", "labelBaseline": "middle", "labelPadding": -154, "labelFontSize": 56, "labelLimit": 1000, "labelOverlap": false, "labelOffset": {"condition": [{"test": "datum.value === 'D100'", "value": -17}, {"test": "datum.value === 'BD80B20'", "value": 17}], "value": 0}, "title": null, "zindex": 1}},
                "y": {"field": "hc", "type": "quantitative", "scale": {"domain": [0, 0.5], "nice": false},
                  "axis": {"orient": "left", "values": [0, 0.05, 0.1, 0.15, 0.2, 0.25, 0.3, 0.35, 0.4, 0.45, 0.5], "labelExpr": "round(datum.value*100) % 10 == 0 ? format(datum.value, '.1f') : ''", "tickSize": {"condition": {"test": "round(datum.value*100) % 10 != 0", "value": 11}, "value": 22}, "tickWidth": 5, "domainWidth": 5, "labelFontSize": 52, "labelPadding": 16, "title": "HC (g/kWh)", "titleFontSize": 92, "titleFontWeight": "normal", "titlePadding": 21, "titleY": 905, "zindex": 2}}}},
            {"transform": [{"filter": "datum.fuel == 'BD100'"}], "mark": {"type": "bar", "stroke": "black", "strokeWidth": 3, "width": {"band": 0.852}, "fill": {"gradient": "linear", "x1": 0, "y1": 0, "x2": 1, "y2": 0, "stops": [{"offset": 0, "color": "#ffffff"}, {"offset": 0.085, "color": "#ffffff"}, {"offset": 0.085, "color": "#ff0000"}, {"offset": 0.115, "color": "#ff0000"}, {"offset": 0.115, "color": "#ffffff"}, {"offset": 0.285, "color": "#ffffff"}, {"offset": 0.285, "color": "#ff0000"}, {"offset": 0.315, "color": "#ff0000"}, {"offset": 0.315, "color": "#ffffff"}, {"offset": 0.485, "color": "#ffffff"}, {"offset": 0.485, "color": "#ff0000"}, {"offset": 0.515, "color": "#ff0000"}, {"offset": 0.515, "color": "#ffffff"}, {"offset": 0.685, "color": "#ffffff"}, {"offset": 0.685, "color": "#ff0000"}, {"offset": 0.715, "color": "#ff0000"}, {"offset": 0.715, "color": "#ffffff"}, {"offset": 0.885, "color": "#ffffff"}, {"offset": 0.885, "color": "#ff0000"}, {"offset": 0.915, "color": "#ff0000"}, {"offset": 0.915, "color": "#ffffff"}, {"offset": 1, "color": "#ffffff"}]}},
              "encoding": {"x": {"field": "fuel", "type": "nominal", "scale": {"type": "band", "domain": ["D100", "BD100", "BD80E20", "BD80P20", "BD80B20"], "paddingInner": 0, "paddingOuter": 0.282}, "axis": null}, "y": {"field": "hc", "type": "quantitative", "axis": null}}},
            {"transform": [{"filter": "datum.fuel == 'BD80E20'"}], "mark": {"type": "bar", "stroke": "black", "strokeWidth": 3, "width": {"band": 0.852}, "fill": {"gradient": "linear", "x1": 0, "y1": 0, "x2": 1, "y2": 0, "stops": [{"offset": 0, "color": "#ffffff"}, {"offset": 0.1517, "color": "#ffffff"}, {"offset": 0.1517, "color": "#00ff00"}, {"offset": 0.1817, "color": "#00ff00"}, {"offset": 0.1817, "color": "#ffffff"}, {"offset": 0.485, "color": "#ffffff"}, {"offset": 0.485, "color": "#00ff00"}, {"offset": 0.515, "color": "#00ff00"}, {"offset": 0.515, "color": "#ffffff"}, {"offset": 0.8183, "color": "#ffffff"}, {"offset": 0.8183, "color": "#00ff00"}, {"offset": 0.8483, "color": "#00ff00"}, {"offset": 0.8483, "color": "#ffffff"}, {"offset": 1, "color": "#ffffff"}]}},
              "encoding": {"x": {"field": "fuel", "type": "nominal", "scale": {"type": "band", "domain": ["D100", "BD100", "BD80E20", "BD80P20", "BD80B20"], "paddingInner": 0, "paddingOuter": 0.282}, "axis": null}, "y": {"field": "hc", "type": "quantitative", "axis": null}}},
            {"transform": [{"filter": "datum.fuel == 'BD80P20'"}], "mark": {"type": "bar", "stroke": "black", "strokeWidth": 3, "width": {"band": 0.852}, "fill": {"gradient": "linear", "x1": 0, "y1": 0, "x2": 1, "y2": 0, "stops": [{"offset": 0, "color": "#ffffff"}, {"offset": 0.0475, "color": "#ffffff"}, {"offset": 0.0475, "color": "#0000ff"}, {"offset": 0.0775, "color": "#0000ff"}, {"offset": 0.0775, "color": "#ffffff"}, {"offset": 0.1725, "color": "#ffffff"}, {"offset": 0.1725, "color": "#0000ff"}, {"offset": 0.2025, "color": "#0000ff"}, {"offset": 0.2025, "color": "#ffffff"}, {"offset": 0.2975, "color": "#ffffff"}, {"offset": 0.2975, "color": "#0000ff"}, {"offset": 0.3275, "color": "#0000ff"}, {"offset": 0.3275, "color": "#ffffff"}, {"offset": 0.4225, "color": "#ffffff"}, {"offset": 0.4225, "color": "#0000ff"}, {"offset": 0.4525, "color": "#0000ff"}, {"offset": 0.4525, "color": "#ffffff"}, {"offset": 0.5475, "color": "#ffffff"}, {"offset": 0.5475, "color": "#0000ff"}, {"offset": 0.5775, "color": "#0000ff"}, {"offset": 0.5775, "color": "#ffffff"}, {"offset": 0.6725, "color": "#ffffff"}, {"offset": 0.6725, "color": "#0000ff"}, {"offset": 0.7025, "color": "#0000ff"}, {"offset": 0.7025, "color": "#ffffff"}, {"offset": 0.7975, "color": "#ffffff"}, {"offset": 0.7975, "color": "#0000ff"}, {"offset": 0.8275, "color": "#0000ff"}, {"offset": 0.8275, "color": "#ffffff"}, {"offset": 0.9225, "color": "#ffffff"}, {"offset": 0.9225, "color": "#0000ff"}, {"offset": 0.9525, "color": "#0000ff"}, {"offset": 0.9525, "color": "#ffffff"}, {"offset": 1, "color": "#ffffff"}]}},
              "encoding": {"x": {"field": "fuel", "type": "nominal", "scale": {"type": "band", "domain": ["D100", "BD100", "BD80E20", "BD80P20", "BD80B20"], "paddingInner": 0, "paddingOuter": 0.282}, "axis": null}, "y": {"field": "hc", "type": "quantitative", "axis": null}}},
            {"transform": [{"filter": "datum.fuel == 'BD80B20'"}], "mark": {"type": "bar", "stroke": "black", "strokeWidth": 3, "width": {"band": 0.852}, "fill": {"gradient": "linear", "x1": 0, "y1": 0, "x2": 1, "y2": 0, "stops": [{"offset": 0, "color": "#ffffff"}, {"offset": 0.085, "color": "#ffffff"}, {"offset": 0.085, "color": "#00ffff"}, {"offset": 0.115, "color": "#00ffff"}, {"offset": 0.115, "color": "#ffffff"}, {"offset": 0.285, "color": "#ffffff"}, {"offset": 0.285, "color": "#00ffff"}, {"offset": 0.315, "color": "#00ffff"}, {"offset": 0.315, "color": "#ffffff"}, {"offset": 0.485, "color": "#ffffff"}, {"offset": 0.485, "color": "#00ffff"}, {"offset": 0.515, "color": "#00ffff"}, {"offset": 0.515, "color": "#ffffff"}, {"offset": 0.685, "color": "#ffffff"}, {"offset": 0.685, "color": "#00ffff"}, {"offset": 0.715, "color": "#00ffff"}, {"offset": 0.715, "color": "#ffffff"}, {"offset": 0.885, "color": "#ffffff"}, {"offset": 0.885, "color": "#00ffff"}, {"offset": 0.915, "color": "#00ffff"}, {"offset": 0.915, "color": "#ffffff"}, {"offset": 1, "color": "#ffffff"}]}},
              "encoding": {"x": {"field": "fuel", "type": "nominal", "scale": {"type": "band", "domain": ["D100", "BD100", "BD80E20", "BD80P20", "BD80B20"], "paddingInner": 0, "paddingOuter": 0.282}, "axis": null}, "y": {"field": "hc", "type": "quantitative", "axis": null}}},
            {"mark": {"type": "point", "opacity": 0}, "encoding": {"y": {"field": "hc", "type": "quantitative", "axis": null}, "x": {"field": "timing", "type": "nominal", "scale": {"type": "band", "paddingInner": 0, "paddingOuter": 0}, "axis": {"orient": "bottom", "domain": true, "domainWidth": 6, "domainCap": "square", "ticks": true, "tickBand": "extent", "tickSize": 405, "tickWidth": 5, "labelAngle": 0, "labelAlign": "center", "labelBaseline": "middle", "labelPadding": -48, "labelFontSize": 52, "labelLimit": 1000, "title": null, "zindex": 2}}}},
            {"mark": {"type": "point", "opacity": 0}, "encoding": {"y": {"field": "hc", "type": "quantitative", "axis": null}, "x": {"field": "timing", "type": "nominal", "scale": {"type": "band", "paddingInner": 0, "paddingOuter": 0}, "axis": {"orient": "bottom", "offset": 308, "domainWidth": 5, "domainCap": "square", "ticks": false, "labels": false, "title": null, "zindex": 2}}}},
            {"mark": {"type": "point", "opacity": 0}, "encoding": {"y": {"field": "hc", "type": "quantitative", "axis": null}, "x": {"field": "timing", "type": "nominal", "scale": {"type": "band", "paddingInner": 0, "paddingOuter": 0}, "axis": {"orient": "bottom", "offset": 405, "domainWidth": 5, "domainCap": "square", "ticks": false, "labels": false, "title": null, "zindex": 2}}}},
            {"mark": {"type": "point", "opacity": 0}, "encoding": {"y": {"field": "hc", "type": "quantitative", "axis": null}, "x": {"field": "timing", "type": "nominal", "scale": {"type": "band", "paddingInner": 0, "paddingOuter": 0}, "axis": {"orient": "top", "domainWidth": 6, "domainCap": "square", "ticks": false, "labels": false, "title": null, "zindex": 2}}}}
          ]
        },
        {
          "width": 676, "height": 1435,
          "transform": [{"filter": "datum.panel == 'b' && datum.timing == 'Standard'"}],
          "resolve": {"scale": {"x": "independent"}, "axis": {"x": "independent", "y": "independent"}},
          "layer": [
            {"transform": [{"filter": "datum.fuel == 'D100'"}], "mark": {"type": "bar", "stroke": "black", "strokeWidth": 3, "width": {"band": 0.852}, "fill": {"gradient": "linear", "x1": 0, "y1": 0, "x2": 1, "y2": 0, "stops": [{"offset": 0, "color": "#ffffff"}, {"offset": 0.0475, "color": "#ffffff"}, {"offset": 0.0475, "color": "#000000"}, {"offset": 0.0775, "color": "#000000"}, {"offset": 0.0775, "color": "#ffffff"}, {"offset": 0.1725, "color": "#ffffff"}, {"offset": 0.1725, "color": "#000000"}, {"offset": 0.2025, "color": "#000000"}, {"offset": 0.2025, "color": "#ffffff"}, {"offset": 0.2975, "color": "#ffffff"}, {"offset": 0.2975, "color": "#000000"}, {"offset": 0.3275, "color": "#000000"}, {"offset": 0.3275, "color": "#ffffff"}, {"offset": 0.4225, "color": "#ffffff"}, {"offset": 0.4225, "color": "#000000"}, {"offset": 0.4525, "color": "#000000"}, {"offset": 0.4525, "color": "#ffffff"}, {"offset": 0.5475, "color": "#ffffff"}, {"offset": 0.5475, "color": "#000000"}, {"offset": 0.5775, "color": "#000000"}, {"offset": 0.5775, "color": "#ffffff"}, {"offset": 0.6725, "color": "#ffffff"}, {"offset": 0.6725, "color": "#000000"}, {"offset": 0.7025, "color": "#000000"}, {"offset": 0.7025, "color": "#ffffff"}, {"offset": 0.7975, "color": "#ffffff"}, {"offset": 0.7975, "color": "#000000"}, {"offset": 0.8275, "color": "#000000"}, {"offset": 0.8275, "color": "#ffffff"}, {"offset": 0.9225, "color": "#ffffff"}, {"offset": 0.9225, "color": "#000000"}, {"offset": 0.9525, "color": "#000000"}, {"offset": 0.9525, "color": "#ffffff"}, {"offset": 1, "color": "#ffffff"}]}},
              "encoding": {
                "x": {"field": "fuel", "type": "nominal", "scale": {"type": "band", "domain": ["D100", "BD100", "BD80E20", "BD80P20", "BD80B20"], "paddingInner": 0, "paddingOuter": 0.282},
                  "axis": {"orient": "bottom", "domain": false, "ticks": true, "bandPosition": 0, "tickExtra": false, "tickSize": 308, "tickWidth": 5, "tickOpacity": {"condition": {"test": "datum.value === 'D100'", "value": 0}, "value": 1}, "labelAngle": 270, "labelAlign": "center", "labelBaseline": "middle", "labelPadding": -154, "labelFontSize": 56, "labelLimit": 1000, "labelOverlap": false, "labelOffset": {"condition": [{"test": "datum.value === 'D100'", "value": -17}, {"test": "datum.value === 'BD80B20'", "value": 17}], "value": 0}, "title": null, "zindex": 1}},
                "y": {"field": "hc", "type": "quantitative", "scale": {"domain": [0, 0.5], "nice": false}, "axis": null}}},
            {"transform": [{"filter": "datum.fuel == 'BD100'"}], "mark": {"type": "bar", "stroke": "black", "strokeWidth": 3, "width": {"band": 0.852}, "fill": {"gradient": "linear", "x1": 0, "y1": 0, "x2": 1, "y2": 0, "stops": [{"offset": 0, "color": "#ffffff"}, {"offset": 0.085, "color": "#ffffff"}, {"offset": 0.085, "color": "#ff0000"}, {"offset": 0.115, "color": "#ff0000"}, {"offset": 0.115, "color": "#ffffff"}, {"offset": 0.285, "color": "#ffffff"}, {"offset": 0.285, "color": "#ff0000"}, {"offset": 0.315, "color": "#ff0000"}, {"offset": 0.315, "color": "#ffffff"}, {"offset": 0.485, "color": "#ffffff"}, {"offset": 0.485, "color": "#ff0000"}, {"offset": 0.515, "color": "#ff0000"}, {"offset": 0.515, "color": "#ffffff"}, {"offset": 0.685, "color": "#ffffff"}, {"offset": 0.685, "color": "#ff0000"}, {"offset": 0.715, "color": "#ff0000"}, {"offset": 0.715, "color": "#ffffff"}, {"offset": 0.885, "color": "#ffffff"}, {"offset": 0.885, "color": "#ff0000"}, {"offset": 0.915, "color": "#ff0000"}, {"offset": 0.915, "color": "#ffffff"}, {"offset": 1, "color": "#ffffff"}]}},
              "encoding": {"x": {"field": "fuel", "type": "nominal", "scale": {"type": "band", "domain": ["D100", "BD100", "BD80E20", "BD80P20", "BD80B20"], "paddingInner": 0, "paddingOuter": 0.282}, "axis": null}, "y": {"field": "hc", "type": "quantitative", "axis": null}}},
            {"transform": [{"filter": "datum.fuel == 'BD80E20'"}], "mark": {"type": "bar", "stroke": "black", "strokeWidth": 3, "width": {"band": 0.852}, "fill": {"gradient": "linear", "x1": 0, "y1": 0, "x2": 1, "y2": 0, "stops": [{"offset": 0, "color": "#ffffff"}, {"offset": 0.1517, "color": "#ffffff"}, {"offset": 0.1517, "color": "#00ff00"}, {"offset": 0.1817, "color": "#00ff00"}, {"offset": 0.1817, "color": "#ffffff"}, {"offset": 0.485, "color": "#ffffff"}, {"offset": 0.485, "color": "#00ff00"}, {"offset": 0.515, "color": "#00ff00"}, {"offset": 0.515, "color": "#ffffff"}, {"offset": 0.8183, "color": "#ffffff"}, {"offset": 0.8183, "color": "#00ff00"}, {"offset": 0.8483, "color": "#00ff00"}, {"offset": 0.8483, "color": "#ffffff"}, {"offset": 1, "color": "#ffffff"}]}},
              "encoding": {"x": {"field": "fuel", "type": "nominal", "scale": {"type": "band", "domain": ["D100", "BD100", "BD80E20", "BD80P20", "BD80B20"], "paddingInner": 0, "paddingOuter": 0.282}, "axis": null}, "y": {"field": "hc", "type": "quantitative", "axis": null}}},
            {"transform": [{"filter": "datum.fuel == 'BD80P20'"}], "mark": {"type": "bar", "stroke": "black", "strokeWidth": 3, "width": {"band": 0.852}, "fill": {"gradient": "linear", "x1": 0, "y1": 0, "x2": 1, "y2": 0, "stops": [{"offset": 0, "color": "#ffffff"}, {"offset": 0.0475, "color": "#ffffff"}, {"offset": 0.0475, "color": "#0000ff"}, {"offset": 0.0775, "color": "#0000ff"}, {"offset": 0.0775, "color": "#ffffff"}, {"offset": 0.1725, "color": "#ffffff"}, {"offset": 0.1725, "color": "#0000ff"}, {"offset": 0.2025, "color": "#0000ff"}, {"offset": 0.2025, "color": "#ffffff"}, {"offset": 0.2975, "color": "#ffffff"}, {"offset": 0.2975, "color": "#0000ff"}, {"offset": 0.3275, "color": "#0000ff"}, {"offset": 0.3275, "color": "#ffffff"}, {"offset": 0.4225, "color": "#ffffff"}, {"offset": 0.4225, "color": "#0000ff"}, {"offset": 0.4525, "color": "#0000ff"}, {"offset": 0.4525, "color": "#ffffff"}, {"offset": 0.5475, "color": "#ffffff"}, {"offset": 0.5475, "color": "#0000ff"}, {"offset": 0.5775, "color": "#0000ff"}, {"offset": 0.5775, "color": "#ffffff"}, {"offset": 0.6725, "color": "#ffffff"}, {"offset": 0.6725, "color": "#0000ff"}, {"offset": 0.7025, "color": "#0000ff"}, {"offset": 0.7025, "color": "#ffffff"}, {"offset": 0.7975, "color": "#ffffff"}, {"offset": 0.7975, "color": "#0000ff"}, {"offset": 0.8275, "color": "#0000ff"}, {"offset": 0.8275, "color": "#ffffff"}, {"offset": 0.9225, "color": "#ffffff"}, {"offset": 0.9225, "color": "#0000ff"}, {"offset": 0.9525, "color": "#0000ff"}, {"offset": 0.9525, "color": "#ffffff"}, {"offset": 1, "color": "#ffffff"}]}},
              "encoding": {"x": {"field": "fuel", "type": "nominal", "scale": {"type": "band", "domain": ["D100", "BD100", "BD80E20", "BD80P20", "BD80B20"], "paddingInner": 0, "paddingOuter": 0.282}, "axis": null}, "y": {"field": "hc", "type": "quantitative", "axis": null}}},
            {"transform": [{"filter": "datum.fuel == 'BD80B20'"}], "mark": {"type": "bar", "stroke": "black", "strokeWidth": 3, "width": {"band": 0.852}, "fill": {"gradient": "linear", "x1": 0, "y1": 0, "x2": 1, "y2": 0, "stops": [{"offset": 0, "color": "#ffffff"}, {"offset": 0.085, "color": "#ffffff"}, {"offset": 0.085, "color": "#00ffff"}, {"offset": 0.115, "color": "#00ffff"}, {"offset": 0.115, "color": "#ffffff"}, {"offset": 0.285, "color": "#ffffff"}, {"offset": 0.285, "color": "#00ffff"}, {"offset": 0.315, "color": "#00ffff"}, {"offset": 0.315, "color": "#ffffff"}, {"offset": 0.485, "color": "#ffffff"}, {"offset": 0.485, "color": "#00ffff"}, {"offset": 0.515, "color": "#00ffff"}, {"offset": 0.515, "color": "#ffffff"}, {"offset": 0.685, "color": "#ffffff"}, {"offset": 0.685, "color": "#00ffff"}, {"offset": 0.715, "color": "#00ffff"}, {"offset": 0.715, "color": "#ffffff"}, {"offset": 0.885, "color": "#ffffff"}, {"offset": 0.885, "color": "#00ffff"}, {"offset": 0.915, "color": "#00ffff"}, {"offset": 0.915, "color": "#ffffff"}, {"offset": 1, "color": "#ffffff"}]}},
              "encoding": {"x": {"field": "fuel", "type": "nominal", "scale": {"type": "band", "domain": ["D100", "BD100", "BD80E20", "BD80P20", "BD80B20"], "paddingInner": 0, "paddingOuter": 0.282}, "axis": null}, "y": {"field": "hc", "type": "quantitative", "axis": null}}},
            {"mark": {"type": "point", "opacity": 0}, "encoding": {"y": {"field": "hc", "type": "quantitative", "axis": null}, "x": {"field": "timing", "type": "nominal", "scale": {"type": "band", "paddingInner": 0, "paddingOuter": 0}, "axis": {"orient": "bottom", "domain": true, "domainWidth": 6, "domainCap": "square", "ticks": true, "tickBand": "extent", "tickSize": 405, "tickWidth": 5, "labelAngle": 0, "labelAlign": "center", "labelBaseline": "middle", "labelPadding": -48, "labelFontSize": 52, "labelLimit": 1000, "title": null, "zindex": 2}}}},
            {"mark": {"type": "point", "opacity": 0}, "encoding": {"y": {"field": "hc", "type": "quantitative", "axis": null}, "x": {"field": "timing", "type": "nominal", "scale": {"type": "band", "paddingInner": 0, "paddingOuter": 0}, "axis": {"orient": "bottom", "offset": 308, "domainWidth": 5, "domainCap": "square", "ticks": false, "labels": false, "title": null, "zindex": 2}}}},
            {"mark": {"type": "point", "opacity": 0}, "encoding": {"y": {"field": "hc", "type": "quantitative", "axis": null}, "x": {"field": "timing", "type": "nominal", "scale": {"type": "band", "paddingInner": 0, "paddingOuter": 0}, "axis": {"orient": "bottom", "offset": 405, "domainWidth": 5, "domainCap": "square", "ticks": false, "labels": false, "title": null, "zindex": 2}}}},
            {"mark": {"type": "point", "opacity": 0}, "encoding": {"y": {"field": "hc", "type": "quantitative", "axis": null}, "x": {"field": "timing", "type": "nominal", "scale": {"type": "band", "paddingInner": 0, "paddingOuter": 0}, "axis": {"orient": "top", "domainWidth": 6, "domainCap": "square", "ticks": false, "labels": false, "title": null, "zindex": 2}}}}
          ]
        },
        {
          "width": 676, "height": 1435,
          "transform": [{"filter": "datum.panel == 'b' && datum.timing == 'Advanced'"}],
          "resolve": {"scale": {"x": "independent"}, "axis": {"x": "independent", "y": "independent"}},
          "layer": [
            {"transform": [{"filter": "datum.fuel == 'D100'"}], "mark": {"type": "bar", "stroke": "black", "strokeWidth": 3, "width": {"band": 0.852}, "fill": {"gradient": "linear", "x1": 0, "y1": 0, "x2": 1, "y2": 0, "stops": [{"offset": 0, "color": "#ffffff"}, {"offset": 0.0475, "color": "#ffffff"}, {"offset": 0.0475, "color": "#000000"}, {"offset": 0.0775, "color": "#000000"}, {"offset": 0.0775, "color": "#ffffff"}, {"offset": 0.1725, "color": "#ffffff"}, {"offset": 0.1725, "color": "#000000"}, {"offset": 0.2025, "color": "#000000"}, {"offset": 0.2025, "color": "#ffffff"}, {"offset": 0.2975, "color": "#ffffff"}, {"offset": 0.2975, "color": "#000000"}, {"offset": 0.3275, "color": "#000000"}, {"offset": 0.3275, "color": "#ffffff"}, {"offset": 0.4225, "color": "#ffffff"}, {"offset": 0.4225, "color": "#000000"}, {"offset": 0.4525, "color": "#000000"}, {"offset": 0.4525, "color": "#ffffff"}, {"offset": 0.5475, "color": "#ffffff"}, {"offset": 0.5475, "color": "#000000"}, {"offset": 0.5775, "color": "#000000"}, {"offset": 0.5775, "color": "#ffffff"}, {"offset": 0.6725, "color": "#ffffff"}, {"offset": 0.6725, "color": "#000000"}, {"offset": 0.7025, "color": "#000000"}, {"offset": 0.7025, "color": "#ffffff"}, {"offset": 0.7975, "color": "#ffffff"}, {"offset": 0.7975, "color": "#000000"}, {"offset": 0.8275, "color": "#000000"}, {"offset": 0.8275, "color": "#ffffff"}, {"offset": 0.9225, "color": "#ffffff"}, {"offset": 0.9225, "color": "#000000"}, {"offset": 0.9525, "color": "#000000"}, {"offset": 0.9525, "color": "#ffffff"}, {"offset": 1, "color": "#ffffff"}]}},
              "encoding": {
                "x": {"field": "fuel", "type": "nominal", "scale": {"type": "band", "domain": ["D100", "BD100", "BD80E20", "BD80P20", "BD80B20"], "paddingInner": 0, "paddingOuter": 0.282},
                  "axis": {"orient": "bottom", "domain": false, "ticks": true, "bandPosition": 0, "tickExtra": false, "tickSize": 308, "tickWidth": 5, "tickOpacity": {"condition": {"test": "datum.value === 'D100'", "value": 0}, "value": 1}, "labelAngle": 270, "labelAlign": "center", "labelBaseline": "middle", "labelPadding": -154, "labelFontSize": 56, "labelLimit": 1000, "labelOverlap": false, "labelOffset": {"condition": [{"test": "datum.value === 'D100'", "value": -17}, {"test": "datum.value === 'BD80B20'", "value": 17}], "value": 0}, "title": null, "zindex": 1}},
                "y": {"field": "hc", "type": "quantitative", "scale": {"domain": [0, 0.5], "nice": false}, "axis": null}}},
            {"transform": [{"filter": "datum.fuel == 'BD100'"}], "mark": {"type": "bar", "stroke": "black", "strokeWidth": 3, "width": {"band": 0.852}, "fill": {"gradient": "linear", "x1": 0, "y1": 0, "x2": 1, "y2": 0, "stops": [{"offset": 0, "color": "#ffffff"}, {"offset": 0.085, "color": "#ffffff"}, {"offset": 0.085, "color": "#ff0000"}, {"offset": 0.115, "color": "#ff0000"}, {"offset": 0.115, "color": "#ffffff"}, {"offset": 0.285, "color": "#ffffff"}, {"offset": 0.285, "color": "#ff0000"}, {"offset": 0.315, "color": "#ff0000"}, {"offset": 0.315, "color": "#ffffff"}, {"offset": 0.485, "color": "#ffffff"}, {"offset": 0.485, "color": "#ff0000"}, {"offset": 0.515, "color": "#ff0000"}, {"offset": 0.515, "color": "#ffffff"}, {"offset": 0.685, "color": "#ffffff"}, {"offset": 0.685, "color": "#ff0000"}, {"offset": 0.715, "color": "#ff0000"}, {"offset": 0.715, "color": "#ffffff"}, {"offset": 0.885, "color": "#ffffff"}, {"offset": 0.885, "color": "#ff0000"}, {"offset": 0.915, "color": "#ff0000"}, {"offset": 0.915, "color": "#ffffff"}, {"offset": 1, "color": "#ffffff"}]}},
              "encoding": {"x": {"field": "fuel", "type": "nominal", "scale": {"type": "band", "domain": ["D100", "BD100", "BD80E20", "BD80P20", "BD80B20"], "paddingInner": 0, "paddingOuter": 0.282}, "axis": null}, "y": {"field": "hc", "type": "quantitative", "axis": null}}},
            {"transform": [{"filter": "datum.fuel == 'BD80E20'"}], "mark": {"type": "bar", "stroke": "black", "strokeWidth": 3, "width": {"band": 0.852}, "fill": {"gradient": "linear", "x1": 0, "y1": 0, "x2": 1, "y2": 0, "stops": [{"offset": 0, "color": "#ffffff"}, {"offset": 0.1517, "color": "#ffffff"}, {"offset": 0.1517, "color": "#00ff00"}, {"offset": 0.1817, "color": "#00ff00"}, {"offset": 0.1817, "color": "#ffffff"}, {"offset": 0.485, "color": "#ffffff"}, {"offset": 0.485, "color": "#00ff00"}, {"offset": 0.515, "color": "#00ff00"}, {"offset": 0.515, "color": "#ffffff"}, {"offset": 0.8183, "color": "#ffffff"}, {"offset": 0.8183, "color": "#00ff00"}, {"offset": 0.8483, "color": "#00ff00"}, {"offset": 0.8483, "color": "#ffffff"}, {"offset": 1, "color": "#ffffff"}]}},
              "encoding": {"x": {"field": "fuel", "type": "nominal", "scale": {"type": "band", "domain": ["D100", "BD100", "BD80E20", "BD80P20", "BD80B20"], "paddingInner": 0, "paddingOuter": 0.282}, "axis": null}, "y": {"field": "hc", "type": "quantitative", "axis": null}}},
            {"transform": [{"filter": "datum.fuel == 'BD80P20'"}], "mark": {"type": "bar", "stroke": "black", "strokeWidth": 3, "width": {"band": 0.852}, "fill": {"gradient": "linear", "x1": 0, "y1": 0, "x2": 1, "y2": 0, "stops": [{"offset": 0, "color": "#ffffff"}, {"offset": 0.0475, "color": "#ffffff"}, {"offset": 0.0475, "color": "#0000ff"}, {"offset": 0.0775, "color": "#0000ff"}, {"offset": 0.0775, "color": "#ffffff"}, {"offset": 0.1725, "color": "#ffffff"}, {"offset": 0.1725, "color": "#0000ff"}, {"offset": 0.2025, "color": "#0000ff"}, {"offset": 0.2025, "color": "#ffffff"}, {"offset": 0.2975, "color": "#ffffff"}, {"offset": 0.2975, "color": "#0000ff"}, {"offset": 0.3275, "color": "#0000ff"}, {"offset": 0.3275, "color": "#ffffff"}, {"offset": 0.4225, "color": "#ffffff"}, {"offset": 0.4225, "color": "#0000ff"}, {"offset": 0.4525, "color": "#0000ff"}, {"offset": 0.4525, "color": "#ffffff"}, {"offset": 0.5475, "color": "#ffffff"}, {"offset": 0.5475, "color": "#0000ff"}, {"offset": 0.5775, "color": "#0000ff"}, {"offset": 0.5775, "color": "#ffffff"}, {"offset": 0.6725, "color": "#ffffff"}, {"offset": 0.6725, "color": "#0000ff"}, {"offset": 0.7025, "color": "#0000ff"}, {"offset": 0.7025, "color": "#ffffff"}, {"offset": 0.7975, "color": "#ffffff"}, {"offset": 0.7975, "color": "#0000ff"}, {"offset": 0.8275, "color": "#0000ff"}, {"offset": 0.8275, "color": "#ffffff"}, {"offset": 0.9225, "color": "#ffffff"}, {"offset": 0.9225, "color": "#0000ff"}, {"offset": 0.9525, "color": "#0000ff"}, {"offset": 0.9525, "color": "#ffffff"}, {"offset": 1, "color": "#ffffff"}]}},
              "encoding": {"x": {"field": "fuel", "type": "nominal", "scale": {"type": "band", "domain": ["D100", "BD100", "BD80E20", "BD80P20", "BD80B20"], "paddingInner": 0, "paddingOuter": 0.282}, "axis": null}, "y": {"field": "hc", "type": "quantitative", "axis": null}}},
            {"transform": [{"filter": "datum.fuel == 'BD80B20'"}], "mark": {"type": "bar", "stroke": "black", "strokeWidth": 3, "width": {"band": 0.852}, "fill": {"gradient": "linear", "x1": 0, "y1": 0, "x2": 1, "y2": 0, "stops": [{"offset": 0, "color": "#ffffff"}, {"offset": 0.085, "color": "#ffffff"}, {"offset": 0.085, "color": "#00ffff"}, {"offset": 0.115, "color": "#00ffff"}, {"offset": 0.115, "color": "#ffffff"}, {"offset": 0.285, "color": "#ffffff"}, {"offset": 0.285, "color": "#00ffff"}, {"offset": 0.315, "color": "#00ffff"}, {"offset": 0.315, "color": "#ffffff"}, {"offset": 0.485, "color": "#ffffff"}, {"offset": 0.485, "color": "#00ffff"}, {"offset": 0.515, "color": "#00ffff"}, {"offset": 0.515, "color": "#ffffff"}, {"offset": 0.685, "color": "#ffffff"}, {"offset": 0.685, "color": "#00ffff"}, {"offset": 0.715, "color": "#00ffff"}, {"offset": 0.715, "color": "#ffffff"}, {"offset": 0.885, "color": "#ffffff"}, {"offset": 0.885, "color": "#00ffff"}, {"offset": 0.915, "color": "#00ffff"}, {"offset": 0.915, "color": "#ffffff"}, {"offset": 1, "color": "#ffffff"}]}},
              "encoding": {"x": {"field": "fuel", "type": "nominal", "scale": {"type": "band", "domain": ["D100", "BD100", "BD80E20", "BD80P20", "BD80B20"], "paddingInner": 0, "paddingOuter": 0.282}, "axis": null}, "y": {"field": "hc", "type": "quantitative", "axis": null}}},
            {"mark": {"type": "point", "opacity": 0}, "encoding": {"y": {"field": "hc", "type": "quantitative", "axis": null}, "x": {"field": "timing", "type": "nominal", "scale": {"type": "band", "paddingInner": 0, "paddingOuter": 0}, "axis": {"orient": "bottom", "domain": true, "domainWidth": 6, "domainCap": "square", "ticks": true, "tickBand": "extent", "tickSize": 405, "tickWidth": 5, "labelAngle": 0, "labelAlign": "center", "labelBaseline": "middle", "labelPadding": -48, "labelFontSize": 52, "labelLimit": 1000, "title": null, "zindex": 2}}}},
            {"mark": {"type": "point", "opacity": 0}, "encoding": {"y": {"field": "hc", "type": "quantitative", "axis": null}, "x": {"field": "timing", "type": "nominal", "scale": {"type": "band", "paddingInner": 0, "paddingOuter": 0}, "axis": {"orient": "bottom", "offset": 308, "domainWidth": 5, "domainCap": "square", "ticks": false, "labels": false, "title": null, "zindex": 2}}}},
            {"mark": {"type": "point", "opacity": 0}, "encoding": {"y": {"field": "hc", "type": "quantitative", "axis": null}, "x": {"field": "timing", "type": "nominal", "scale": {"type": "band", "paddingInner": 0, "paddingOuter": 0}, "axis": {"orient": "bottom", "offset": 405, "domainWidth": 5, "domainCap": "square", "ticks": false, "labels": false, "title": null, "zindex": 2}}}},
            {"mark": {"type": "point", "opacity": 0}, "encoding": {"y": {"field": "hc", "type": "quantitative", "axis": null}, "x": {"field": "timing", "type": "nominal", "scale": {"type": "band", "paddingInner": 0, "paddingOuter": 0}, "axis": {"orient": "top", "domainWidth": 6, "domainCap": "square", "ticks": false, "labels": false, "title": null, "zindex": 2}}}},
            {"mark": {"type": "point", "opacity": 0}, "encoding": {"x": {"field": "timing", "type": "nominal", "scale": {"type": "band", "paddingInner": 0, "paddingOuter": 0}, "axis": null}, "y": {"field": "hc", "type": "quantitative", "axis": {"orient": "right", "domainWidth": 6, "domainCap": "square", "ticks": false, "labels": false, "title": null, "zindex": 2}}}},
            {"mark": {"type": "point", "opacity": 0},
              "encoding": {"fill": {"field": "fuel", "type": "nominal",
                "scale": {"domain": ["D100", "BD100", "BD80E20", "BD80P20", "BD80B20"], "range": ["#b8b8b8", "#ffb8b8", "#b8ffb8", "#b8b8ff", "#b8ffff"]},
                "legend": {"orient": "none", "legendX": 325, "legendY": 7, "title": null, "symbolType": "M-1.836,-1H1.836V1H-1.836Z", "symbolSize": 3025, "symbolStrokeColor": "black", "symbolStrokeWidth": 3.3, "symbolOpacity": 1, "symbolOffset": 23, "labelOffset": 37, "labelFontSize": 46, "labelColor": "black", "labelLimit": 500, "rowPadding": -3, "padding": 8, "strokeColor": "black", "fillColor": "white", "zindex": 3}}}}
          ]
        }
      ],
      "spacing": 0,
      "bounds": "flush",
      "resolve": {"scale": {"x": "independent", "y": "independent", "fill": "independent"}, "legend": {"fill": "independent"}}
    }
  ],
  "config": {
    "font": "Liberation Sans",
    "view": {"stroke": "#a0a0a0", "strokeWidth": 1.5},
    "axis": {"labelFont": "Liberation Sans", "titleFont": "Liberation Sans", "labelColor": "black", "titleColor": "black", "domainColor": "black", "tickColor": "black", "grid": false},
    "legend": {"strokeWidth": 2.5, "labelFont": "Liberation Sans"},
    "title": {"font": "Liberation Sans"}
  }
}
